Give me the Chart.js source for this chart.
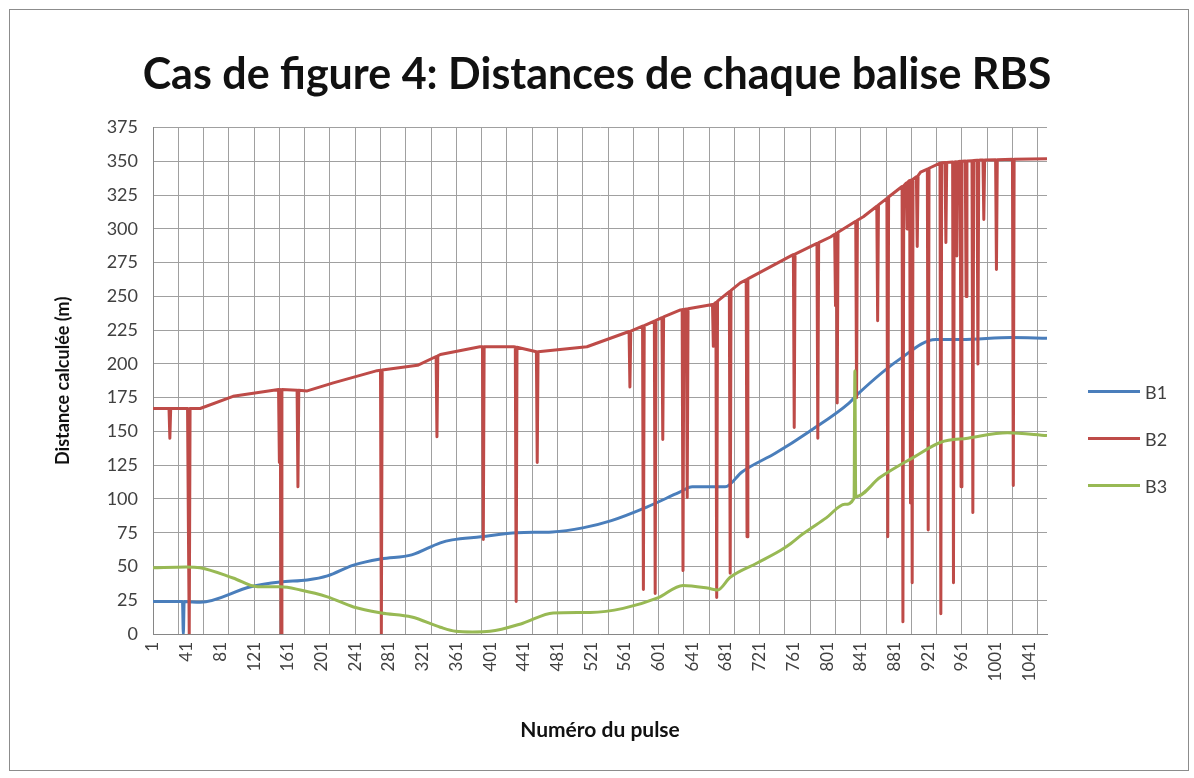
<!DOCTYPE html>
<html>
<head>
<meta charset="utf-8">
<script src="https://cdn.jsdelivr.net/npm/chart.js@4"></script>
<style>
  body { margin: 0; background: #fff; }
  #wrap { position: relative; width: 1194px; height: 778px; }
  #frame { position: absolute; left: 9px; top: 9px; width: 1178px; height: 760px; border: 1px solid #8c8c8c; pointer-events: none; }
  #legend { position: absolute; left: 1088px; top: 368px; font-family: Lato, "Open Sans", sans-serif; font-size: 18px; color: #404040; }
  .item { display: flex; align-items: center; height: 47px; }
  .swatch { width: 52px; height: 3px; margin-right: 5px; }
</style>
</head>
<body>
<div id="wrap">
  <canvas id="chart" width="1194" height="778"></canvas>
  <div id="frame"></div>
  <div id="legend"></div>
</div>
<script>
Chart.defaults.font.family = 'Lato, "Open Sans", sans-serif';
Chart.defaults.color = '#404040';

// tick labels and vertical gridlines (pulse numbers)
const pulseTicks = [1, 41, 81, 121, 161, 201, 241, 281, 321, 361, 401, 441, 481, 521, 561, 601, 641, 681, 721, 761, 801, 841, 881, 921, 961, 1001, 1041];
const gridPulses = [1, 31, 61, 91, 121, 151, 181, 211, 241, 271, 301, 331, 361, 391, 421, 451, 481, 511, 541, 571, 601, 631, 661, 691, 721, 751, 781, 811, 841, 871, 901, 931, 961, 991, 1021, 1051];

const seriesNames = ['B1', 'B2', 'B3'];
const seriesColors = ['#4a7ebb', '#be4b48', '#98b954'];

// B1
const b1Pulse = [1, 36, 37, 38, 57, 117, 152, 184, 208, 239, 272, 308, 342, 356, 390, 433, 475, 511, 545, 587, 626, 641, 680, 700, 740, 780, 827, 838, 886, 930, 960, 1020, 1062];
const b1Dist = [24, 24, 0, 24, 23.5, 35, 38.5, 40, 43, 51, 55.6, 58.6, 67.5, 69.7, 72, 75, 75.6, 78.6, 84, 94, 105, 109, 109, 120, 134, 150, 171, 178, 203, 218, 218, 219.5, 219];

// B2
const b2Pulse = [1, 20, 21, 22, 42, 43, 44, 45, 57, 96, 150, 151, 152, 153, 154, 172, 173, 174, 184, 215, 267, 271, 272, 273, 315, 337, 338, 339, 342, 389, 392, 393, 394, 429, 431, 432, 433, 456, 457, 458, 516, 566, 567, 568, 582, 583, 584, 596, 597, 598, 605, 606, 607, 627, 629, 630, 631, 634, 635, 636, 665, 666, 667, 669, 670, 671, 685, 686, 687, 698, 705, 706, 707, 758, 761, 762, 763, 789, 790, 791, 805, 810, 811, 812, 813, 814, 835, 836, 837, 844, 860, 861, 862, 872, 873, 874, 885, 890, 891, 892, 895, 896, 897, 899, 900, 901, 902, 903, 907, 908, 909, 912, 920, 921, 922, 935, 936, 937, 941, 942, 943, 950, 951, 952, 954, 955, 956, 959, 960, 961, 965, 966, 967, 973, 974, 975, 979, 980, 981, 983, 986, 987, 988, 1001, 1002, 1003, 1021, 1022, 1023, 1062];
const b2Dist = [167, 167, 145, 167, 167, 80, 0, 167, 167, 176, 181, 127, 181, 0, 181, 180.5, 109, 180.5, 180, 186, 195, 195.3, 0, 195.5, 199, 205.5, 146, 206, 207, 212.7, 212.7, 70, 212.7, 212.7, 212.5, 24, 212.3, 209, 127, 209, 212.7, 224, 183, 224.3, 228, 33, 228.3, 231.7, 30, 232.2, 234.2, 144, 234.8, 240, 240.2, 47, 240.4, 240.7, 101, 240.9, 244, 213, 244.5, 245.5, 27, 246.5, 253.5, 45, 254.5, 260, 262.3, 72, 263, 280, 281, 153, 281.3, 289.2, 145, 289.8, 294, 296, 243, 296.7, 171, 297.5, 305.6, 175, 306.4, 309, 316.8, 232, 317.8, 322.6, 72, 323.6, 329, 331.4, 9, 331.9, 334, 300, 334.8, 335.8, 97, 336.2, 38, 336.8, 338.6, 287, 339.4, 342, 344.3, 77, 344.9, 348.7, 15, 349, 349.1, 290, 349.2, 349.5, 38, 349.6, 349.7, 280, 349.8, 350, 109, 350, 350.2, 250, 350.3, 350.5, 90, 350.6, 350.8, 200, 350.9, 351, 351, 307, 351, 351.2, 270, 351.2, 351.5, 110, 351.5, 352];

// B3
const b3Pulse = [1, 40, 57, 96, 125, 152, 176, 208, 239, 272, 308, 342, 360, 380, 401, 440, 476, 520, 559, 600, 630, 659, 671, 686, 718, 746, 758, 772, 800, 822, 833, 834, 835, 864, 904, 936, 968, 1015, 1062];
const b3Dist = [49, 49.7, 49, 41.5, 35, 35, 32.6, 27.5, 20, 15.6, 12.6, 5, 2, 1.5, 2, 8, 15.6, 16, 19, 26.7, 36, 34, 32.6, 42, 52.6, 62, 67, 74, 86, 96, 100.5, 195, 101.6, 116, 131, 142, 145, 149, 147];

function points(xs, ys) {
  return xs.map((x, i) => ({ x: x, y: ys[i] }));
}

function lineSet(i, xs, ys, order, smooth) {
  return {
    label: seriesNames[i],
    data: points(xs, ys),
    borderColor: seriesColors[i],
    backgroundColor: seriesColors[i],
    borderWidth: 3,
    borderJoinStyle: 'round',
    pointRadius: 0,
    cubicInterpolationMode: smooth ? 'monotone' : 'default',
    tension: 0,
    order: order
  };
}

new Chart(document.getElementById('chart'), {
  type: 'line',
  data: {
    datasets: [
      lineSet(0, b1Pulse, b1Dist, 3, true),
      lineSet(1, b2Pulse, b2Dist, 2, false),
      lineSet(2, b3Pulse, b3Dist, 1, true)
    ]
  },
  options: {
    responsive: false,
    animation: false,
    layout: { padding: 0 },
    plugins: {
      legend: { display: false },
      tooltip: { enabled: false },
      title: {
        display: true,
        text: 'Cas de figure 4: Distances de chaque balise RBS',
        color: '#111',
        font: { size: 43, weight: 'bold' },
        padding: { top: 49, bottom: 27 }
      }
    },
    scales: {
      x: {
        type: 'linear',
        min: 1,
        max: 1062,
        afterFit: (s) => { s.height = 144; },
        afterBuildTicks: (s) => {
          const vals = [...new Set(pulseTicks.concat(gridPulses))].sort((a, b) => a - b);
          s.ticks = vals.map(v => ({ value: v }));
        },
        ticks: {
          autoSkip: false,
          minRotation: 90,
          maxRotation: 90,
          padding: 8,
          font: { size: 17 },
          callback: (v) => pulseTicks.includes(v) ? String(v) : ''
        },
        grid: {
          drawTicks: false,
          color: (ctx) => (ctx.tick && gridPulses.includes(ctx.tick.value)) ? '#a0a0a0' : 'rgba(0,0,0,0)'
        },
        border: { color: '#868686' },
        title: {
          display: true,
          text: 'Numéro du pulse',
          color: '#111',
          font: { size: 21, weight: 'bold' },
          padding: { top: 0, bottom: 35 }
        }
      },
      y: {
        min: 0,
        max: 375,
        afterFit: (s) => { s.width = 153; },
        ticks: { stepSize: 25, padding: 15, font: { size: 18 } },
        grid: { drawTicks: false, color: '#a0a0a0' },
        border: { color: '#868686' },
        title: {
          display: true,
          text: 'Distance calculée (m)',
          color: '#111',
          font: { size: 18, weight: 'bold' },
          padding: { top: 52, bottom: 0 }
        }
      },
      // empty right-hand axis that keeps room for the legend
      side: {
        position: 'right',
        min: 0,
        max: 1,
        afterFit: (s) => { s.width = 147; },
        ticks: { display: false },
        grid: { drawOnChartArea: false, drawTicks: false },
        border: { display: false }
      }
    }
  }
});

// legend
const legend = document.getElementById('legend');
seriesNames.forEach((name, i) => {
  const row = document.createElement('div');
  row.className = 'item';
  const sw = document.createElement('span');
  sw.className = 'swatch';
  sw.style.background = seriesColors[i];
  const txt = document.createElement('span');
  txt.textContent = name;
  row.appendChild(sw);
  row.appendChild(txt);
  legend.appendChild(row);
});
</script>
</body>
</html>
